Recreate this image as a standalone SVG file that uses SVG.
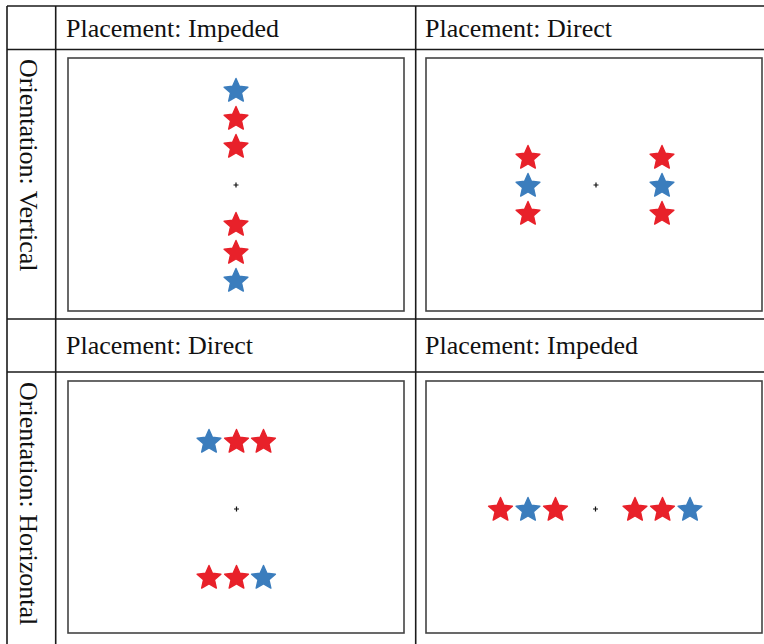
<svg xmlns="http://www.w3.org/2000/svg" width="764" height="644" viewBox="0 0 764 644">
  <style>
    .grid { stroke: #1a1a1a; stroke-width: 1.6; fill: none; }
    .panel { stroke: #444; stroke-width: 1.6; fill: #fff; }
    .label { font-family: "Liberation Serif", "Times New Roman", serif; font-size: 26px; fill: #111; }
    .red { fill: #e8212a; stroke: #e8212a; stroke-width: 1.4; stroke-linejoin: round; }
    .blue { fill: #3b7dbd; stroke: #3b7dbd; stroke-width: 1.4; stroke-linejoin: round; }
    .fix { stroke: #111; stroke-width: 1.2; }
  </style>
  <defs>
    <path id="star" d="M0,-12.5 L3.41,-4.69 L11.89,-3.86 L5.52,1.79 L7.35,10.11 L0,5.8 L-7.35,10.11 L-5.52,1.79 L-11.89,-3.86 L-3.41,-4.69 Z"/>
    <path id="cross" d="M-2.5,0 H2.5 M0,-2.5 V2.5"/>
  </defs>
  <rect width="764" height="644" fill="#fff"/>

  <!-- table rules -->
  <g id="table">
    <line class="grid" x1="7" y1="6" x2="764" y2="6"/>
    <line class="grid" x1="7" y1="49.5" x2="764" y2="49.5"/>
    <line class="grid" x1="7" y1="319" x2="764" y2="319"/>
    <line class="grid" x1="7" y1="372" x2="764" y2="372"/>
    <line class="grid" x1="7" y1="6" x2="7" y2="644"/>
    <line class="grid" x1="55.7" y1="6" x2="55.7" y2="644"/>
    <line class="grid" x1="415.7" y1="6" x2="415.7" y2="644"/>
  </g>

  <!-- headings -->
  <g id="headings">
    <text class="label" x="66" y="37">Placement: Impeded</text>
    <text class="label" x="425" y="37">Placement: Direct</text>
    <text class="label" x="66" y="354">Placement: Direct</text>
    <text class="label" x="425" y="354">Placement: Impeded</text>
    <text class="label" transform="translate(20,59) rotate(90)">Orientation: Vertical</text>
    <text class="label" transform="translate(20,382) rotate(90)">Orientation: Horizontal</text>
  </g>

  <!-- vertical, impeded -->
  <g id="panel-vertical-impeded">
    <rect class="panel" x="68" y="58" width="336" height="253"/>
    <use href="#star" class="blue" x="236" y="91"/>
    <use href="#star" class="red" x="236" y="119"/>
    <use href="#star" class="red" x="236" y="147"/>
    <use href="#cross" class="fix" x="236" y="185"/>
    <use href="#star" class="red" x="236" y="225"/>
    <use href="#star" class="red" x="236" y="253"/>
    <use href="#star" class="blue" x="236" y="281"/>
  </g>

  <!-- vertical, direct -->
  <g id="panel-vertical-direct">
    <rect class="panel" x="426" y="58" width="336" height="253"/>
    <use href="#star" class="red" x="528" y="158"/>
    <use href="#star" class="blue" x="528" y="186"/>
    <use href="#star" class="red" x="528" y="214"/>
    <use href="#cross" class="fix" x="596" y="185"/>
    <use href="#star" class="red" x="662" y="158"/>
    <use href="#star" class="blue" x="662" y="186"/>
    <use href="#star" class="red" x="662" y="214"/>
  </g>

  <!-- horizontal, direct -->
  <g id="panel-horizontal-direct">
    <rect class="panel" x="68" y="381" width="336" height="252"/>
    <use href="#star" class="blue" x="209" y="442"/>
    <use href="#star" class="red" x="236.5" y="442"/>
    <use href="#star" class="red" x="263.5" y="442"/>
    <use href="#cross" class="fix" x="236.5" y="509"/>
    <use href="#star" class="red" x="209" y="578"/>
    <use href="#star" class="red" x="236.5" y="578"/>
    <use href="#star" class="blue" x="263.5" y="578"/>
  </g>

  <!-- horizontal, impeded -->
  <g id="panel-horizontal-impeded">
    <rect class="panel" x="426" y="381" width="336" height="252"/>
    <use href="#star" class="red" x="500.5" y="510"/>
    <use href="#star" class="blue" x="528" y="510"/>
    <use href="#star" class="red" x="555.5" y="510"/>
    <use href="#cross" class="fix" x="595.5" y="509"/>
    <use href="#star" class="red" x="635" y="510"/>
    <use href="#star" class="red" x="662.5" y="510"/>
    <use href="#star" class="blue" x="690" y="510"/>
  </g>
</svg>
